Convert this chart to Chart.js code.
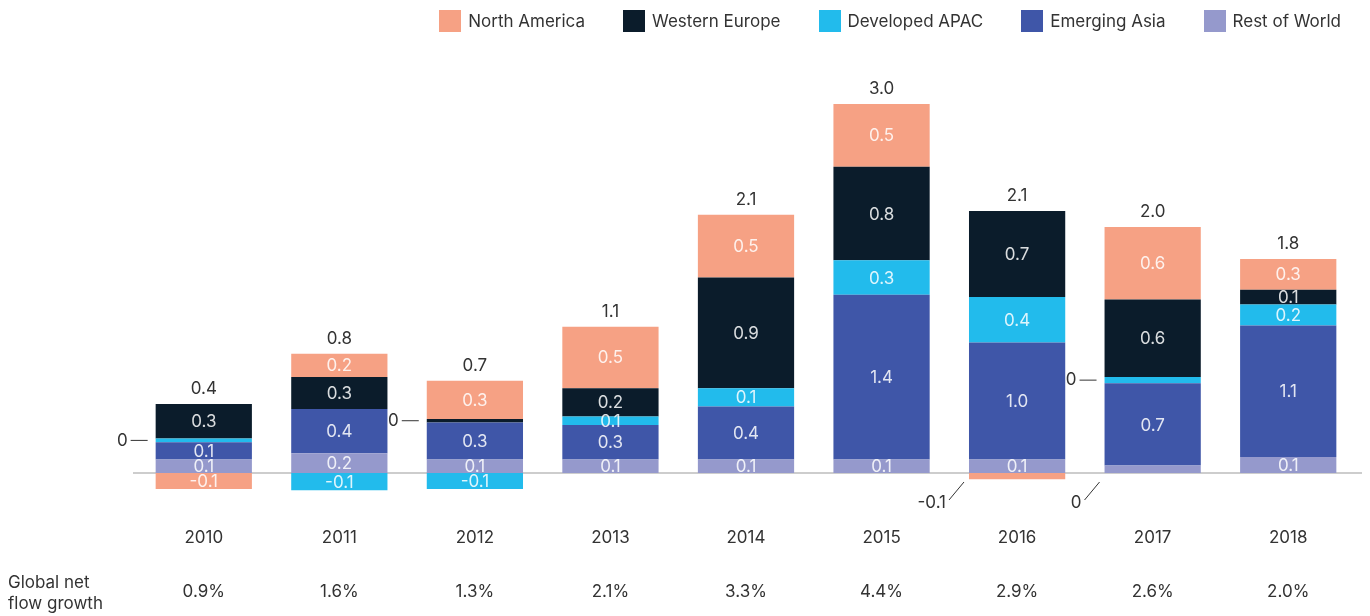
<!DOCTYPE html>
<html>
<head>
<meta charset="utf-8">
<script src="https://cdn.jsdelivr.net/npm/chart.js@4"></script>
<style>
  body { margin: 0; background: #fff; font-family: Inter, "Liberation Sans", sans-serif; }
  #wrap { position: relative; width: 1370px; height: 616px; }
  #legend { position: absolute; top: 10px; right: 29px; display: flex; gap: 38px; font-size: 17px; color: #333; }
  #legend span.item { display: flex; align-items: center; gap: 7px; }
  #legend i { display: inline-block; width: 22px; height: 22px; }
</style>
</head>
<body>
<div id="wrap">
  <div id="legend"></div>
  <canvas id="canvas_bar" width="1370" height="616"></canvas>
</div>
<script>
// data
const years = ['2010', '2011', '2012', '2013', '2014', '2015', '2016', '2017', '2018'];
const growth = ['0.9%', '1.6%', '1.3%', '2.1%', '3.3%', '4.4%', '2.9%', '2.6%', '2.0%'];
const totals = ['0.4', '0.8', '0.7', '1.1', '2.1', '3.0', '2.1', '2.0', '1.8'];

const row_values  = [0.11, 0.16, 0.11, 0.11, 0.11, 0.11, 0.11, 0.06, 0.13];
const ea_values   = [0.14, 0.36, 0.30, 0.28, 0.43, 1.34, 0.95, 0.67, 1.07];
const apac_values = [0.03, -0.14, -0.13, 0.07, 0.15, 0.28, 0.37, 0.05, 0.17];
const we_values   = [0.28, 0.26, 0.03, 0.23, 0.90, 0.76, 0.70, 0.63, 0.12];
const na_values   = [-0.13, 0.19, 0.31, 0.50, 0.51, 0.51, -0.05, 0.59, 0.25];

// text shown inside each segment (null = shown outside with a leader line)
const row_labels  = ['0.1', '0.2', '0.1', '0.1', '0.1', '0.1', '0.1', null, '0.1'];
const ea_labels   = ['0.1', '0.4', '0.3', '0.3', '0.4', '1.4', '1.0', '0.7', '1.1'];
const apac_labels = [null, '-0.1', '-0.1', '0.1', '0.1', '0.3', '0.4', null, '0.2'];
const we_labels   = ['0.3', '0.3', null, '0.2', '0.9', '0.8', '0.7', '0.6', '0.1'];
const na_labels   = ['-0.1', '0.2', '0.3', '0.5', '0.5', '0.5', null, '0.6', '0.3'];

// outside notes: [year index, dataset index, text, style]
const notes = [[0, 2, '0', 'dash'], [2, 3, '0', 'dash'], [7, 2, '0', 'dash'], [6, 4, '-0.1', 'slash'], [7, 0, '0', 'slash']];

const series = [
  { label: 'Rest of World', data: row_values, text: row_labels, color: '#9599cc' },
  { label: 'Emerging Asia', data: ea_values, text: ea_labels, color: '#3f56a8' },
  { label: 'Developed APAC', data: apac_values, text: apac_labels, color: '#22bbec' },
  { label: 'Western Europe', data: we_values, text: we_labels, color: '#0b1c2b' },
  { label: 'North America', data: na_values, text: na_labels, color: '#f6a184' },
];

// html legend, reversed order
const legend = document.getElementById('legend');
series.slice().reverse().forEach(s => {
  legend.innerHTML += '<span class="item"><i style="background:' + s.color + '"></i>' + s.label + '</span>';
});

const FONT = '17px Inter, "Liberation Sans", sans-serif';

const extras = {
  id: 'extras',
  beforeDatasetsDraw(chart) {
    const ctx = chart.ctx, y0 = chart.scales.y.getPixelForValue(0);
    ctx.save();
    ctx.strokeStyle = '#bdbdbd';
    ctx.lineWidth = 1.5;
    ctx.beginPath();
    ctx.moveTo(133, y0);
    ctx.lineTo(1362, y0);
    ctx.stroke();
    ctx.restore();
  },
  afterDatasetsDraw(chart) {
    const ctx = chart.ctx, y0 = chart.scales.y.getPixelForValue(0);
    ctx.save();
    ctx.font = FONT;
    ctx.textBaseline = 'middle';
    ctx.textAlign = 'center';
    // inside labels
    series.forEach((s, d) => {
      chart.getDatasetMeta(d).data.forEach((bar, i) => {
        if (!s.text[i]) return;
        ctx.fillStyle = 'rgba(255,255,255,0.85)';
        ctx.fillText(s.text[i], bar.x, (bar.y + bar.base) / 2 + 1);
      });
    });
    // totals and axis texts
    years.forEach((yr, i) => {
      let top = y0;
      series.forEach((s, d) => { top = Math.min(top, chart.getDatasetMeta(d).data[i].y); });
      const x = chart.getDatasetMeta(0).data[i].x;
      ctx.fillStyle = '#333';
      ctx.fillText(totals[i], x, top - 15);
      ctx.fillText(yr, x, 538);
      ctx.fillText(growth[i], x, 592);
    });
    ctx.textAlign = 'left';
    ctx.fillText('Global net', 8, 583);
    ctx.fillText('flow growth', 8, 604);
    // outside notes
    ctx.strokeStyle = '#333';
    ctx.lineWidth = 1;
    notes.forEach(([i, d, txt, style]) => {
      const bar = chart.getDatasetMeta(d).data[i];
      const left = bar.x - bar.width / 2;
      const cy = (bar.y + bar.base) / 2;
      ctx.beginPath();
      if (style === 'dash') {
        ctx.moveTo(left - 25, cy);
        ctx.lineTo(left - 8, cy);
        ctx.stroke();
        ctx.textAlign = 'right';
        ctx.fillText(txt, left - 28, cy);
      } else {
        ctx.moveTo(left - 5, y0 + 9);
        ctx.lineTo(left - 20, y0 + 27);
        ctx.stroke();
        ctx.textAlign = 'right';
        ctx.fillText(txt, left - 23, y0 + 30);
      }
    });
    ctx.restore();
  }
};

const config_bar = {
  type: 'bar',
  data: {
    labels: years,
    datasets: series.map(s => ({
      label: s.label,
      data: s.data,
      backgroundColor: s.color,
      borderWidth: 0,
      barPercentage: 0.71,
      categoryPercentage: 1,
    })),
  },
  options: {
    responsive: false,
    animation: false,
    layout: { padding: { left: 136, right: 14, top: 79.4, bottom: 93.8 } },
    scales: {
      x: { stacked: true, display: false },
      y: { stacked: true, display: false, min: -0.4, max: 3.2 },
    },
    plugins: { legend: { display: false }, tooltip: { enabled: false } },
  },
  plugins: [extras],
};

const canvas_bar = document.getElementById('canvas_bar');
const chart_bar = new Chart(canvas_bar, config_bar);
</script>
</body>
</html>
